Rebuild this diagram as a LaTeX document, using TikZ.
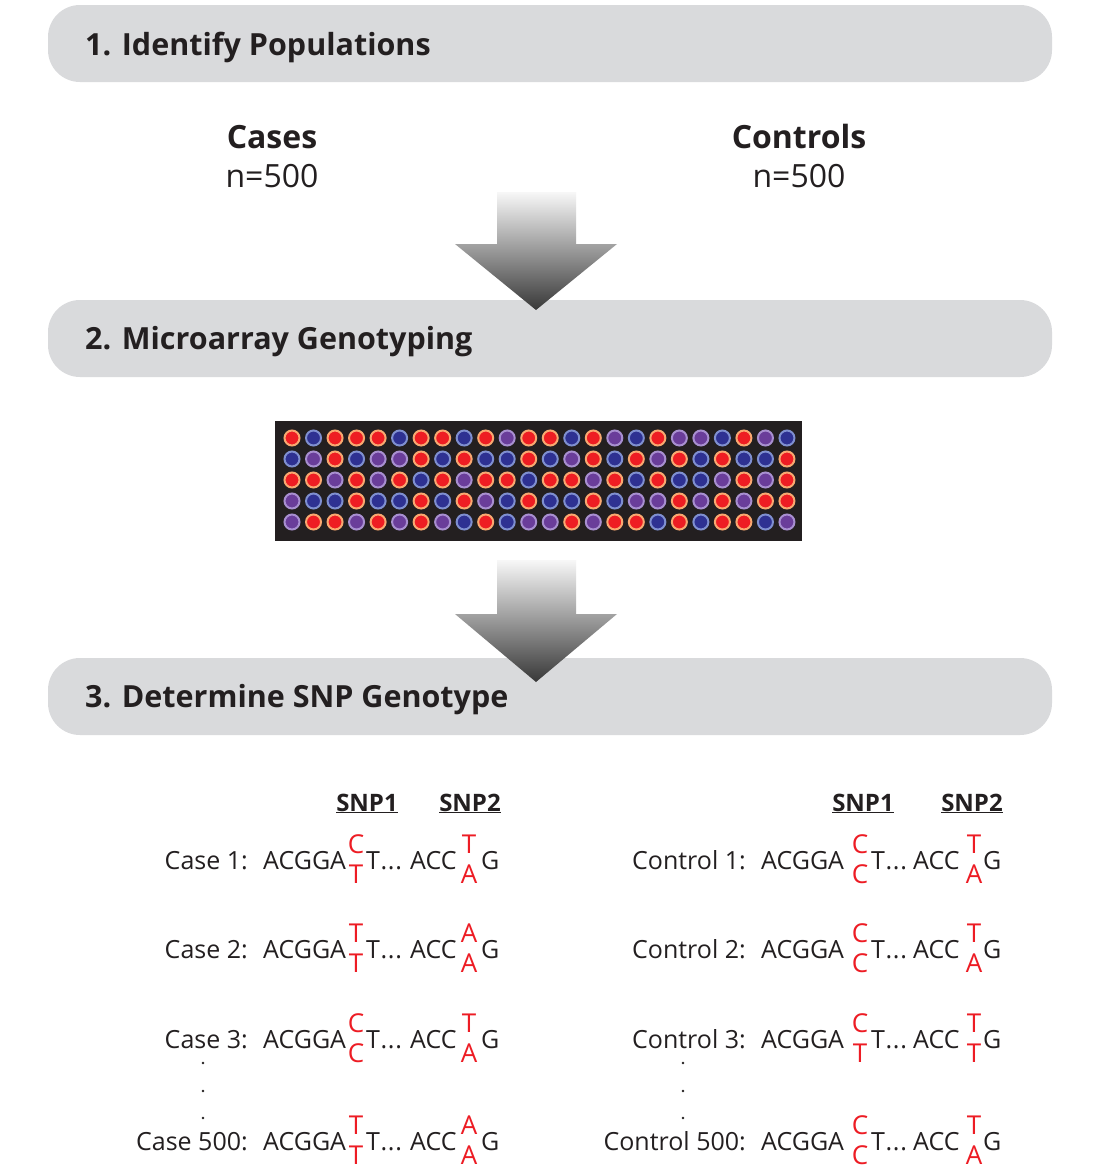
\documentclass[tikz,border=0pt]{standalone}
\usepackage{fontspec}
\setmainfont{Open Sans}
\usetikzlibrary{positioning}

\definecolor{bargray}{RGB}{217,218,220}
\definecolor{ink}{RGB}{35,31,32}
\definecolor{snpred}{RGB}{237,28,36}
\definecolor{chip}{RGB}{35,31,32}
\definecolor{dotred}{RGB}{238,29,35}
\definecolor{ringred}{RGB}{249,168,112}
\definecolor{dotblue}{RGB}{46,49,146}
\definecolor{ringblue}{RGB}{127,143,208}
\definecolor{dotpurple}{RGB}{106,61,154}
\definecolor{ringpurple}{RGB}{168,143,208}

\tikzset{
  bar/.style={fill=bargray, rounded corners=32pt, minimum width=1004pt, minimum height=77pt, inner sep=0pt},
  bartitle/.style={anchor=base west, inner sep=0pt, text=ink, font=\fontsize{30.5}{36}\selectfont\bfseries},
  grouphead/.style={anchor=base, inner sep=0pt, text=ink, font=\fontsize{32}{38}\selectfont},
  snphead/.style={anchor=base, inner sep=0pt, text=ink, font=\fontsize{24}{29}\selectfont\bfseries},
  seq/.style={anchor=base west, inner sep=0pt, text=ink, font=\fontsize{25}{30}\selectfont},
  allele/.style={anchor=base, inner sep=0pt, text=snpred, font=\fontsize{26}{30}\selectfont},
  spot/.style={circle, minimum size=15pt, line width=2pt, inner sep=0pt},
  dotR/.style={spot, fill=dotred, draw=ringred},
  dotB/.style={spot, fill=dotblue, draw=ringblue},
  dotP/.style={spot, fill=dotpurple, draw=ringpurple},
  vdot/.style={circle, fill=ink, minimum size=2.6pt, inner sep=0pt},
}

% one genotype line: name, baseline, label, SNP1 top/bottom, SNP2 top/bottom
\newcommand{\genoline}[7]{%
  \node[seq, anchor=base east] (#1lab) at (\xlab,#2) {#3};
  \node[seq] (#1a) at (\xa,#2) {ACGGA};
  \node[allele] (#1p) at (\xp,#2-16) {#4};
  \node[allele] (#1q) at (\xp,#2+14) {#5};
  \node[seq] (#1t) at (\xt,#2) {T\kern0.5pt.\kern0.8pt.\kern0.8pt.};
  \node[seq] (#1c) at (\xc,#2) {ACC};
  \node[allele] (#1r) at (\xr,#2-16) {#6};
  \node[allele] (#1s) at (\xr,#2+14) {#7};
  \node[seq] (#1g) at (\xg,#2) {G};
}

\begin{document}
\begin{tikzpicture}[x=1pt, y=-1pt]
  \useasboundingbox[fill=white] (0,0) rectangle (1098,1175);

  % step bars
  \node[bar] (pop) at (550,43.5) {};
  \node[bartitle] (popt) at (85,55) {1. Identify Populations};
  \node[bar] (geno) at (550,338.5) {};
  \node[bartitle] (genot) at (85,349) {2. Microarray Genotyping};
  \node[bar] (snp) at (550,696.5) {};
  \node[bartitle] (snpt) at (85,707) {3. Determine SNP Genotype};

  \node[grouphead, font=\fontsize{32}{38}\selectfont\bfseries] (cases) at (272,148) {Cases};
  \node[grouphead] (casesn) at (272,187) {n=500};
  \node[grouphead, font=\fontsize{32}{38}\selectfont\bfseries] (ctrls) at (799,148) {Controls};
  \node[grouphead] (ctrlsn) at (799,187) {n=500};

  % block arrows
  \shade[top color=gray!6, bottom color=black!78]
    (497,192) -- (576,192) -- (576,244) -- (617,244) -- (536,310)
    -- (455,244) -- (497,244) -- cycle;
  \shade[top color=gray!6, bottom color=black!78]
    (497,560) -- (576,560) -- (576,614) -- (617,614) -- (536,682)
    -- (455,614) -- (497,614) -- cycle;

  % microarray
  \node[fill=chip, minimum width=527pt, minimum height=120pt, inner sep=0pt] (chip) at (538.5,481) {};
  \foreach \spots [count=\j] in {
    {R,B,R,R,R,B,R,R,B,R,P,R,R,B,R,P,B,R,P,P,B,R,P,B},
    {B,P,R,B,P,P,R,B,R,B,B,R,B,P,R,B,R,P,R,B,R,B,B,R},
    {R,R,P,R,P,R,B,R,P,R,R,B,R,R,P,R,B,R,B,B,P,R,P,R},
    {P,B,B,R,B,B,R,B,R,P,B,R,B,B,R,B,P,P,R,P,R,P,R,R},
    {P,R,R,P,R,P,R,P,B,R,B,P,P,R,P,R,R,B,R,B,R,R,B,P}}{
    \foreach \c [count=\i] in \spots {
      \node[dot\c] (d\j-\i) at ({292+21.52*(\i-1)},{438+21*(\j-1)}) {};
    }
  }

  % cases
  \node[snphead] (hc1) at (367,811) {\underline{SNP1}};
  \node[snphead] (hc2) at (470,811) {\underline{SNP2}};
  \def\xlab{248}\def\xa{263}\def\xp{356}\def\xt{366}\def\xc{410}\def\xr{469}\def\xg{481}
  \genoline{ca1}{869}{Case 1:}{C}{T}{T}{A}
  \genoline{ca2}{958}{Case 2:}{T}{T}{A}{A}
  \genoline{ca3}{1048}{Case 3:}{C}{C}{T}{A}
  \genoline{ca500}{1150}{Case 500:}{T}{T}{A}{A}

  % controls
  \node[snphead] (hk1) at (863,811) {\underline{SNP1}};
  \node[snphead] (hk2) at (972,811) {\underline{SNP2}};
  \def\xlab{746}\def\xa{761}\def\xp{860}\def\xt{871}\def\xc{913}\def\xr{974}\def\xg{983}
  \genoline{co1}{869}{Control 1:}{C}{C}{T}{A}
  \genoline{co2}{958}{Control 2:}{C}{C}{T}{A}
  \genoline{co3}{1048}{Control 3:}{C}{T}{T}{T}
  \genoline{co500}{1150}{Control 500:}{C}{C}{T}{A}

  \foreach \yy [count=\k] in {1063,1091,1118}{
    \node[vdot] (cd\k) at (203,\yy) {};
    \node[vdot] (kd\k) at (683,\yy) {};
  }
\end{tikzpicture}
\end{document}
